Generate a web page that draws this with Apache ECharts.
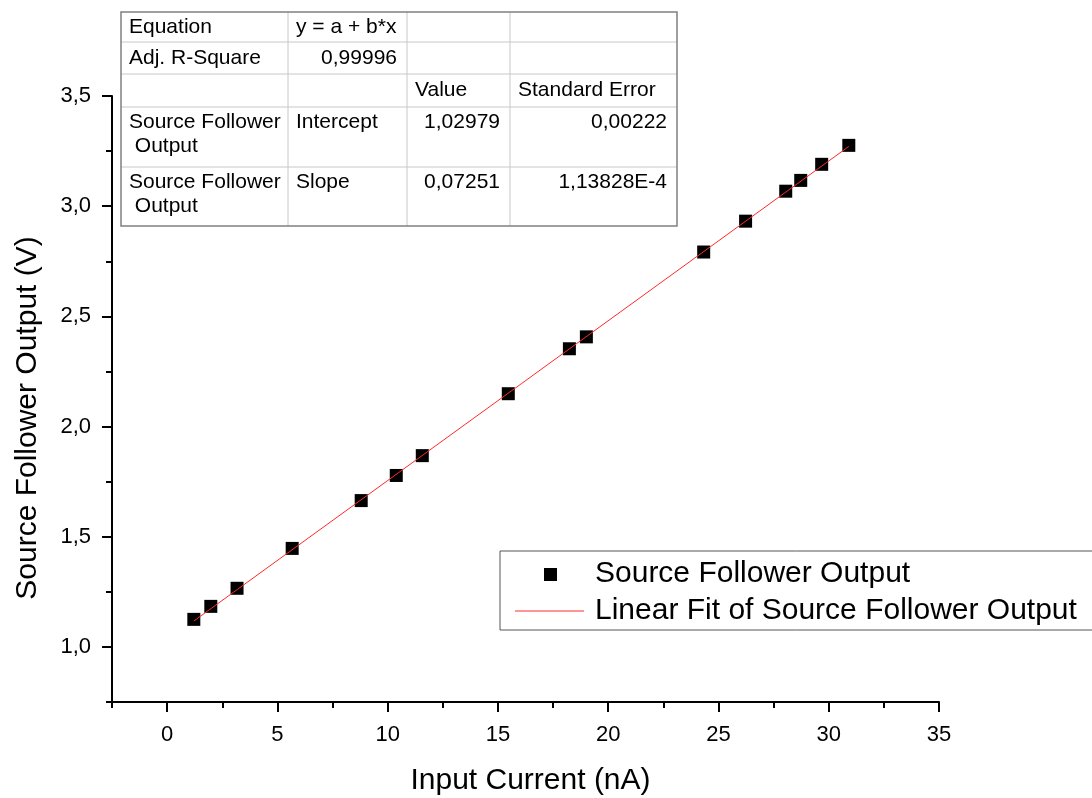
<!DOCTYPE html>
<html>
<head>
<meta charset="utf-8">
<title>Source Follower Output</title>
<script src="https://cdn.jsdelivr.net/npm/echarts@6/dist/echarts.min.js"></script>
<style>
  html, body { margin: 0; padding: 0; background: #ffffff; }
  #chart { width: 1092px; height: 798px; }
</style>
</head>
<body>
<div id="chart"></div>
<script>
// Measured points: input current (nA) and source follower output (V)
const inputCurrent = [1.21, 1.98, 3.17, 5.67, 8.80, 10.39, 11.57, 15.47, 18.24, 19.01, 24.33, 26.23, 28.05, 28.73, 29.68, 30.91];
const followerOutput = [1.125, 1.184, 1.266, 1.447, 1.664, 1.778, 1.868, 2.149, 2.353, 2.407, 2.792, 2.932, 3.068, 3.117, 3.190, 3.276];

// Linear fit parameters y = a + b*x
const fitIntercept = 1.02979;
const fitSlope = 0.07251;

// Axis ticks
const xMajorTicks = [0, 5, 10, 15, 20, 25, 30, 35];
const xMinorTicks = [-2.5, 2.5, 7.5, 12.5, 17.5, 22.5, 27.5, 32.5];
const yMajorTicks = [1.0, 1.5, 2.0, 2.5, 3.0, 3.5];
const yMinorTicks = [0.75, 1.25, 1.75, 2.25, 2.75, 3.25];

// Fit results table (rows of cells)
const tableRows = [
  ['Equation', 'y = a + b*x', '', ''],
  ['Adj. R-Square', '0,99996', '', ''],
  ['', '', 'Value', 'Standard Error'],
  ['Source Follower\n Output', 'Intercept', '1,02979', '0,00222'],
  ['Source Follower\n Output', 'Slope', '0,07251', '1,13828E-4']
];

const seriesName = 'Source Follower Output';
const fitName = 'Linear Fit of Source Follower Output';
const xTitle = 'Input Current (nA)';
const yTitle = 'Source Follower Output (V)';

const FONT = '"Liberation Sans", Arial, sans-serif';

const points = inputCurrent.map((x, i) => [x, followerOutput[i]]);
const xFirst = inputCurrent[0];
const xLast = inputCurrent[inputCurrent.length - 1];
const fitLine = [
  [xFirst, fitIntercept + fitSlope * xFirst],
  [xLast, fitIntercept + fitSlope * xLast]
];

const comma = v => String(v).replace('.', ',');

// Table layout
const colX = [121, 288, 407, 510, 677];
const rowY = [12, 42, 74, 107, 167, 226];
const cellAlign = [
  ['left', 'left', 'left', 'left'],
  ['left', 'right', 'left', 'left'],
  ['left', 'left', 'left', 'left'],
  ['left', 'left', 'right', 'right'],
  ['left', 'left', 'right', 'right']
];
const tallRows = [3, 4];

function buildTable() {
  const els = [];
  els.push({
    type: 'rect', z: 100,
    shape: { x: colX[0], y: rowY[0], width: colX[4] - colX[0], height: rowY[5] - rowY[0] },
    style: { fill: '#ffffff', stroke: 'none' }
  });
  for (let i = 1; i < colX.length - 1; i++) {
    els.push({
      type: 'line', z: 101,
      shape: { x1: colX[i], y1: rowY[0], x2: colX[i], y2: rowY[5] },
      style: { stroke: '#c8c8c8', lineWidth: 1 }
    });
  }
  for (let j = 1; j < rowY.length - 1; j++) {
    els.push({
      type: 'line', z: 101,
      shape: { x1: colX[0], y1: rowY[j], x2: colX[4], y2: rowY[j] },
      style: { stroke: '#c8c8c8', lineWidth: 1 }
    });
  }
  els.push({
    type: 'rect', z: 102,
    shape: { x: colX[0], y: rowY[0], width: colX[4] - colX[0], height: rowY[5] - rowY[0] },
    style: { fill: 'none', stroke: '#808080', lineWidth: 1.5 }
  });
  tableRows.forEach((row, r) => {
    const tall = tallRows.indexOf(r) >= 0;
    row.forEach((txt, c) => {
      if (!txt) return;
      const align = cellAlign[r][c];
      txt.split('\n').forEach((ln, k) => {
        const cy = tall ? rowY[r] + 15 + k * 24 : (rowY[r] + rowY[r + 1]) / 2;
        els.push({
          type: 'text', z: 103,
          x: align === 'left' ? colX[c] + 8 : colX[c + 1] - 10,
          y: cy,
          style: {
            text: ln, fill: '#000000', font: '21px ' + FONT,
            align: align, verticalAlign: 'middle'
          }
        });
      });
    });
  });
  return els;
}

function buildLegend() {
  return [
    {
      type: 'rect', z: 100,
      shape: { x: 500, y: 551, width: 620, height: 79 },
      style: { fill: '#ffffff', stroke: '#555555', lineWidth: 1 }
    },
    {
      type: 'rect', z: 101,
      shape: { x: 544, y: 568, width: 13, height: 13 },
      style: { fill: '#000000' }
    },
    {
      type: 'line', z: 101,
      shape: { x1: 515, y1: 611, x2: 584, y2: 611 },
      style: { stroke: '#ff2a2a', lineWidth: 1 }
    },
    {
      type: 'text', z: 101, x: 595, y: 574,
      style: { text: seriesName, fill: '#000000', font: '30px ' + FONT, verticalAlign: 'middle' }
    },
    {
      type: 'text', z: 101, x: 595, y: 611,
      style: { text: fitName, fill: '#000000', font: '30px ' + FONT, verticalAlign: 'middle' }
    }
  ];
}

function buildYTitle() {
  return [{
    type: 'text', z: 50, x: 28, y: 418, rotation: Math.PI / 2,
    style: {
      text: yTitle, fill: '#000000', font: '30px ' + FONT,
      align: 'center', verticalAlign: 'middle'
    }
  }];
}

const chart = echarts.init(document.getElementById('chart'), null, { renderer: 'canvas' });

const axisLineStyle = { color: '#000000', width: 2 };

chart.setOption({
  animation: false,
  backgroundColor: '#ffffff',
  grid: {
    left: 112, right: 153, top: 96, bottom: 96,
    containLabel: false, outerBoundsMode: 'none'
  },
  xAxis: [
    {
      type: 'value', min: -2.5, max: 35, interval: 2.5, position: 'bottom',
      name: xTitle, nameLocation: 'middle', nameGap: 64,
      nameTextStyle: { fontFamily: FONT, fontSize: 30, color: '#000000', padding: [0, 0, 0, 10] },
      axisLine: { show: true, onZero: false, lineStyle: axisLineStyle },
      axisTick: { show: true, length: 10, lineStyle: axisLineStyle, customValues: xMajorTicks },
      axisLabel: {
        show: true, customValues: xMajorTicks, margin: 22,
        fontFamily: FONT, fontSize: 22, color: '#000000',
        formatter: v => comma(v)
      },
      splitLine: { show: false }
    },
    {
      type: 'value', min: -2.5, max: 35, interval: 2.5, position: 'bottom',
      axisLine: { show: false, onZero: false },
      axisTick: { show: true, length: 6, lineStyle: axisLineStyle, customValues: xMinorTicks },
      axisLabel: { show: false },
      splitLine: { show: false }
    }
  ],
  yAxis: [
    {
      type: 'value', min: 0.75, max: 3.5, interval: 0.25, position: 'left',
      axisLine: { show: true, onZero: false, lineStyle: axisLineStyle },
      axisTick: { show: true, length: 10, lineStyle: axisLineStyle, customValues: yMajorTicks },
      axisLabel: {
        show: true, customValues: yMajorTicks, margin: 21,
        fontFamily: FONT, fontSize: 22, color: '#000000',
        formatter: v => comma(v.toFixed(1))
      },
      splitLine: { show: false }
    },
    {
      type: 'value', min: 0.75, max: 3.5, interval: 0.25, position: 'left',
      axisLine: { show: false, onZero: false },
      axisTick: { show: true, length: 6, lineStyle: axisLineStyle, customValues: yMinorTicks },
      axisLabel: { show: false },
      splitLine: { show: false }
    }
  ],
  series: [
    {
      name: seriesName, type: 'scatter', xAxisIndex: 0, yAxisIndex: 0,
      symbol: 'rect', symbolSize: 13, z: 2,
      itemStyle: { color: '#000000', opacity: 1 },
      data: points
    },
    {
      name: fitName, type: 'line', xAxisIndex: 0, yAxisIndex: 0,
      showSymbol: false, symbol: 'none', z: 3,
      lineStyle: { color: '#ff2a2a', width: 1 },
      data: fitLine
    }
  ],
  graphic: buildTable().concat(buildLegend(), buildYTitle())
});
</script>
</body>
</html>
